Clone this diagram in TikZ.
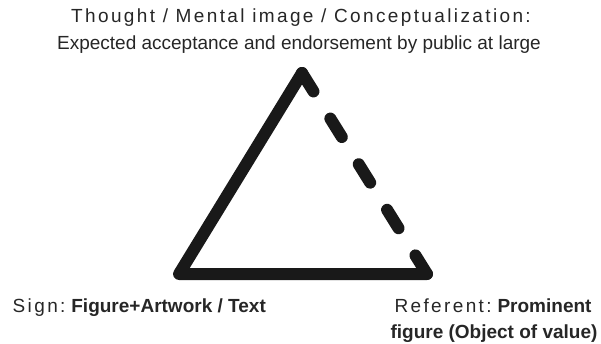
\documentclass[tikz,border=0pt]{standalone}
\usepackage{fontspec}
\setmainfont{Liberation Sans}
\newfontfamily\spacedfont[LetterSpace=12.5]{Liberation Sans}
\begin{document}
\begin{tikzpicture}[x=1pt,y=-1pt,
  edge/.style={line width=12pt,line cap=round,line join=round,color=black!90},
  dashedge/.style={edge,dash pattern=on 21.7pt off 32pt},
  label/.style={inner sep=0pt,font=\fontsize{19}{22}\selectfont,text=black!85}]
\useasboundingbox (0,0) rectangle (601,344);
% corners of the triangle
\coordinate (apex) at (302,73);
\coordinate (sign) at (179,274);
\coordinate (referent) at (427,274);
% sides
\draw[edge] (apex) -- (sign) -- (referent);
\draw[dashedge] (apex) -- (referent);
% labels
\node[label,anchor=base] (thought) at (301,23) {\spacedfont Thought / Mental image / Conceptualization:};
\node[label,anchor=base] (expected) at (299,50) {Expected acceptance and endorsement by public at large};
\node[label,anchor=base west] (signlabel) at (12.5,312.5) {{\spacedfont Sign:}\hspace{3.5pt}\textbf{Figure+Artwork / Text}};
\node[label,anchor=base] (reflabel) at (493,312.5) {{\spacedfont Referent:}\hspace{3.5pt}\textbf{Prominent}};
\node[label,anchor=base] (reflabel2) at (494,338) {\textbf{figure (Object of value)}};
\end{tikzpicture}
\end{document}
